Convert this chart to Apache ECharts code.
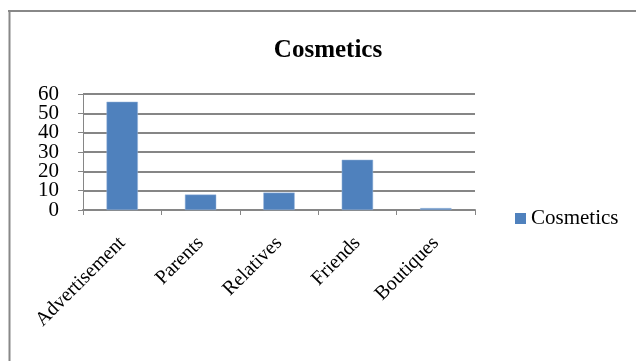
<!DOCTYPE html>
<html>
<head>
<meta charset="utf-8">
<script src="https://cdn.jsdelivr.net/npm/echarts@6/dist/echarts.min.js"></script>
<style>
html,body{margin:0;padding:0;background:#fff;}
#chart{width:636px;height:361px;}
</style>
</head>
<body>
<div id="chart"></div>
<script>
const categories = ["Advertisement", "Parents", "Relatives", "Friends", "Boutiques"];
const cosmeticsValues = [56, 8, 9, 26, 1];
const yTicks = [0, 10, 20, 30, 40, 50, 60];

const chart = echarts.init(document.getElementById('chart'), null, {renderer: 'canvas'});
const serif = '"Liberation Serif", "DejaVu Serif", serif';
const yMin = yTicks[0], yMax = yTicks[yTicks.length - 1], yStep = yTicks[1] - yTicks[0];
function labelFor(parity) {
  return function (v) {
    const idx = Math.round((v - yMin) / yStep);
    return idx % 2 === parity ? String(v) : '';
  };
}
const yLabelStyle = {margin: 24, fontFamily: serif, fontSize: 21, color: '#000',
  showMinLabel: true, showMaxLabel: true};
chart.setOption({
  animation: false,
  backgroundColor: '#ffffff',
  title: {
    text: 'Cosmetics',
    left: 323, top: 33, textAlign: 'center',
    textStyle: {fontFamily: serif, fontSize: 25, fontWeight: 'bold', color: '#000'}
  },
  legend: {
    data: ['Cosmetics'],
    left: 515, top: 208, padding: 0,
    itemWidth: 11, itemHeight: 11, itemGap: 5,
    icon: 'rect',
    itemStyle: {borderWidth: 0},
    textStyle: {fontFamily: serif, fontSize: 21, color: '#000', padding: [0,0,0,0]}
  },
  grid: {left: 83, right: 161, top: 94, bottom: 151, containLabel: false},
  xAxis: {
    type: 'category',
    data: categories,
    boundaryGap: true,
    axisLine: {show: true, lineStyle: {color: '#868686', width: 2}},
    axisTick: {show: true, length: 5, lineStyle: {color: '#868686', width: 1}},
    axisLabel: {rotate: 45, margin: 30, interval: 0, fontFamily: serif, fontSize: 20, color: '#000'}
  },
  yAxis: [{
    type: 'value', position: 'left',
    min: yMin, max: yMax, interval: yStep,
    axisLine: {show: true, lineStyle: {color: '#868686', width: 1}},
    axisTick: {show: true, length: 5, lineStyle: {color: '#868686'}},
    splitLine: {show: true, lineStyle: {color: '#868686', width: 2}},
    axisLabel: Object.assign({formatter: labelFor(0)}, yLabelStyle)
  }, {
    type: 'value', position: 'left', offset: 0,
    min: yMin, max: yMax, interval: yStep,
    axisLine: {show: false},
    axisTick: {show: false},
    splitLine: {show: false},
    axisLabel: Object.assign({formatter: labelFor(1)}, yLabelStyle)
  }],
  series: [{
    name: 'Cosmetics',
    type: 'bar',
    data: cosmeticsValues,
    barWidth: '40%',
    itemStyle: {color: '#4F81BD', borderColor: '#9bb7dc', borderWidth: 0.5}
  }],
  graphic: [
    {type: 'line', shape: {x1: 8, y1: 11, x2: 636, y2: 11}, style: {stroke: '#888888', lineWidth: 2}},
    {type: 'line', shape: {x1: 9.5, y1: 10, x2: 9.5, y2: 361}, style: {stroke: '#888888', lineWidth: 2}}
  ]
});
</script>
</body>
</html>
